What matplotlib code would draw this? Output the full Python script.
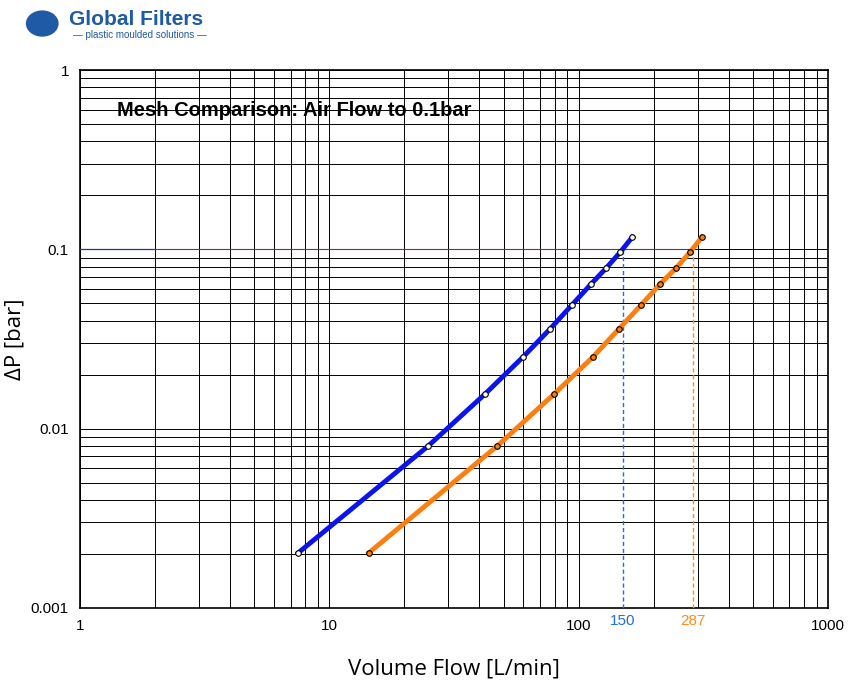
import numpy as np
import matplotlib.pyplot as plt
from matplotlib.ticker import LogLocator, NullFormatter

plt.rcParams['font.family'] = ['Liberation Sans', 'DejaVu Sans']

# --- data ---
blue_flow = [7.5, 24.9, 42.1, 59.8, 76.8, 94.0, 112, 129, 147, 164]
blue_dp = [0.00203, 0.0080, 0.0156, 0.0251, 0.036, 0.049, 0.064, 0.0787, 0.0967, 0.117]
orange_flow = [14.4, 47.1, 79.7, 114, 145, 178, 212, 246, 280, 312]
orange_dp = [0.00203, 0.0080, 0.0156, 0.0251, 0.036, 0.049, 0.064, 0.0787, 0.0967, 0.117]
marks = [150, 287]
mark_colors = ['#1f6fe0', '#ff8c1a']

fig = plt.figure(figsize=(8.62, 6.92), dpi=100)
ax = fig.add_axes([0.0928, 0.1214, 0.8678, 0.7774])
ax.set_xscale('log')
ax.set_yscale('log')
ax.set_xlim(1, 1000)
ax.set_ylim(0.001, 1)

ax.xaxis.set_minor_locator(LogLocator(base=10, subs=np.arange(2, 10)))
ax.yaxis.set_minor_locator(LogLocator(base=10, subs=np.arange(2, 10)))
ax.xaxis.set_minor_formatter(NullFormatter())
ax.yaxis.set_minor_formatter(NullFormatter())
ax.grid(True, which='both', color='black', linewidth=0.7)
ax.set_axisbelow(True)
ax.set_xticks([1, 10, 100, 1000])
ax.set_xticklabels(['1', '10', '100', '1000'])
ax.set_yticks([0.001, 0.01, 0.1, 1])
ax.set_yticklabels(['0.001', '0.01', '0.1', '1'])
ax.tick_params(which='both', length=0, labelsize=11, pad=8)
for s in ax.spines.values():
    s.set_linewidth(1.2)

# 0.1 bar reference line
ax.plot([1, 2], [0.1, 0.1], color='#2233aa', linewidth=0.9, zorder=3)
ax.plot([2, 287], [0.1, 0.1], color='#8b2a2a', linewidth=0.8, zorder=3)
for m, c in zip(marks, mark_colors):
    ax.plot([m, m], [0.001, 0.1], color=c, linestyle=(0, (3, 2)), linewidth=1.0, zorder=3)
    ax.text(m, 0.00092, str(m), color=c, ha='center', va='top', fontsize=11)

ax.plot(blue_flow, blue_dp, color='#0a14ee', linewidth=3.5, zorder=4)
ax.plot(blue_flow, blue_dp, 'o', markersize=4, markerfacecolor='white',
        markeredgecolor='black', markeredgewidth=0.8, zorder=5)
ax.plot(orange_flow, orange_dp, color='#ff7f0e', linewidth=3.5, zorder=4)
ax.plot(orange_flow, orange_dp, 'o', markersize=4, markerfacecolor='#ff7f0e',
        markeredgecolor='black', markeredgewidth=0.8, zorder=5)

ax.text(0.05, 0.925, 'Mesh Comparison: Air Flow to 0.1bar', transform=ax.transAxes,
        fontsize=14.5, fontweight='bold', ha='left', va='center')

ax.set_xlabel('Volume Flow [L/min]', fontsize=16, labelpad=18, family='Open Sans')
ax.set_ylabel('ΔP [bar]', fontsize=16, labelpad=4, family='Open Sans')

# logo
fig.text(0.08, 0.972, 'Global Filters', color='#1f5aa6', fontsize=15, fontweight='bold',
         ha='left', va='center')
fig.text(0.085, 0.950, '— plastic moulded solutions —', color='#1f5aa6', fontsize=7,
         ha='left', va='center')
fig.patches.append(plt.Circle((0.049, 0.966), 0.019, transform=fig.transFigure,
                              facecolor='#1f5aa6', edgecolor='none'))

fig.savefig('out.png', dpi=100)
